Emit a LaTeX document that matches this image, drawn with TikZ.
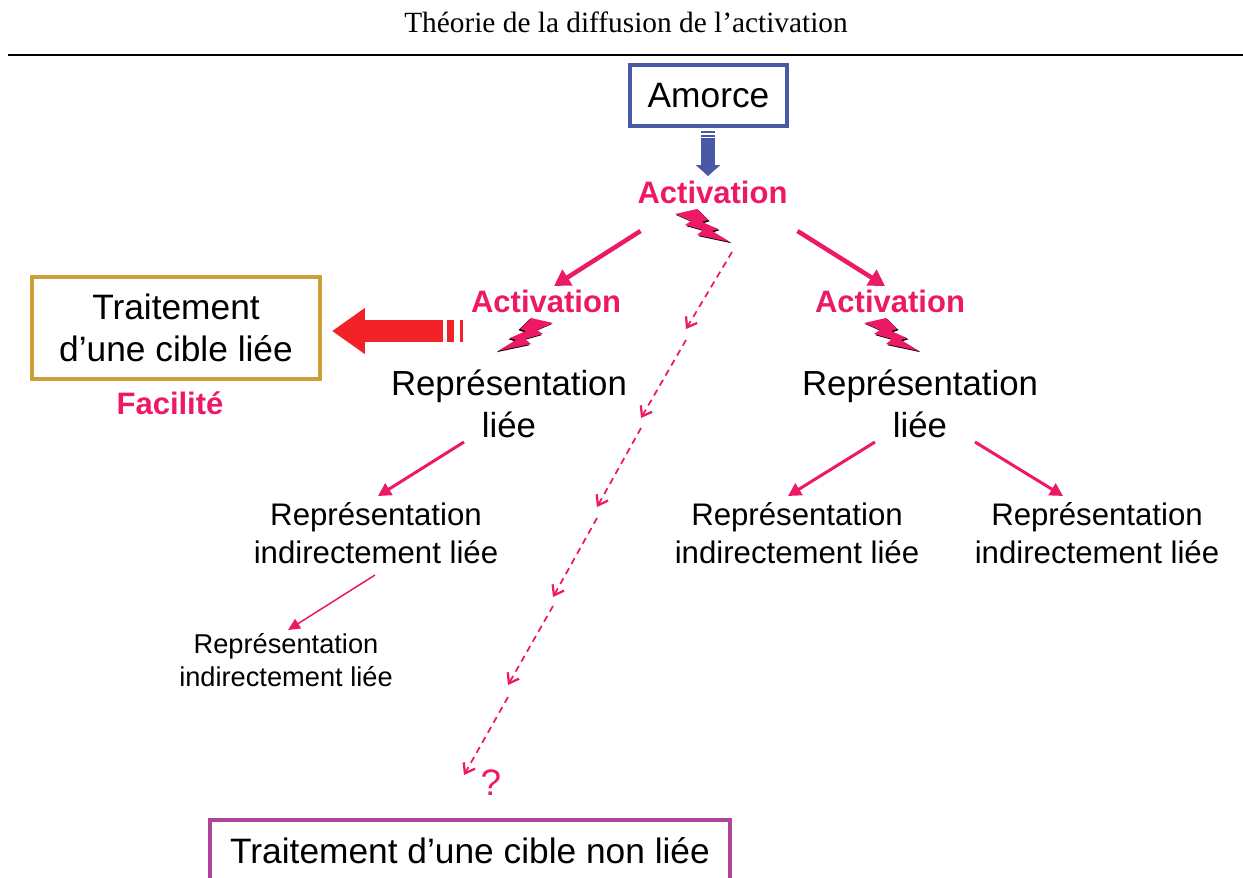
\documentclass[tikz,border=0pt]{standalone}
\usepackage{fontspec}
\setmainfont{Liberation Sans}
\newfontfamily\titlefont{Liberation Serif}
\usetikzlibrary{arrows.meta}
\definecolor{pinkact}{HTML}{ED1966}
\definecolor{redfac}{HTML}{F12228}
\definecolor{blueamo}{HTML}{4A59A7}
\definecolor{goldbox}{HTML}{CDA03A}
\definecolor{purplebox}{HTML}{AC459C}
\tikzset{
  box/.style={draw,line width=0.075cm,fill=white,inner sep=0pt,align=center,font=\fontsize{20.1}{23.8}\selectfont},
  rep/.style={inner sep=0pt,align=center,font=\fontsize{19.8}{23.8}\selectfont},
  indrep/.style={inner sep=0pt,align=center,font=\fontsize{17.75}{21.5}\selectfont},
  smallrep/.style={inner sep=0pt,align=center,font=\fontsize{15.5}{18.7}\selectfont},
  act/.style={inner sep=0pt,text=pinkact,font=\fontsize{17.65}{21}\selectfont\bfseries},
  link/.style={draw=pinkact,line width=0.09cm,-{Triangle[length=0.32cm,width=0.36cm,fill=pinkact]}},
  sublink/.style={draw=pinkact,line width=0.06cm,-{Triangle[length=0.26cm,width=0.27cm,fill=pinkact]}},
  thinlink/.style={draw=pinkact,line width=0.03cm,-{Triangle[length=0.24cm,width=0.22cm,fill=pinkact]}},
  dashlink/.style={draw=pinkact,line width=0.035cm,dash pattern=on 0.13cm off 0.1cm,-{Straight Barb[length=0.18cm,width=0.26cm,line width=0.045cm]}},
  bolt/.pic={
    \fill[black,shift={(1.5,1.2)}] (0,0) -- (22,-5) -- (33,6) -- (27,8) -- (43,15) -- (37,17) -- (55,28)
      -- (22,21) -- (28,16) -- (10,11) -- (16,7) -- cycle;
    \fill[pinkact] (0,0) -- (22,-5) -- (33,6) -- (27,8) -- (43,15) -- (37,17) -- (55,28)
      -- (22,21) -- (28,16) -- (10,11) -- (16,7) -- cycle;
  }
}

\begin{document}
\begin{tikzpicture}[x=0.02cm,y=-0.02cm]
    \useasboundingbox (0,0) rectangle (1243,877);
    \clip (0,0) rectangle (1243,877);
    % title
    \node (title) [inner sep=0pt,font=\titlefont\fontsize{16.7}{20}\selectfont] at (626,22) {Théorie de la diffusion de l’activation};
    \coordinate (ruleL) at (8,55);
    \coordinate (ruleR) at (1243,55);
    \draw[line width=0.03cm] (ruleL) -- (ruleR);
    % boxes
    \node (amorce) [box,draw=blueamo,minimum width=3.15cm,minimum height=1.22cm] at (708.5,95.5) {Amorce};
    \node (cible) [box,draw=goldbox,minimum width=5.75cm,minimum height=2.05cm] at (176,328) {Traitement\\d’une cible liée};
    \node (nonliee) [box,draw=purplebox,minimum width=10.4cm,minimum height=1.25cm] at (470,851) {Traitement d’une cible non liée};
    % activation labels
    \node (acttop) [act] at (712.5,192) {Activation};
    \node (actL) [act] at (546,301) {Activation};
    \node (actR) [act] at (890,301) {Activation};
    \node (facile) [act] at (170,403) {Facilité};
    % representations
    \node (repL) [rep] at (509,404) {Représentation\\liée};
    \node (repR) [rep] at (920,404) {Représentation\\liée};
    \node (indA) [indrep] at (376,533) {Représentation\\indirectement liée};
    \node (indB) [indrep] at (797,533) {Représentation\\indirectement liée};
    \node (indC) [indrep] at (1097,533) {Représentation\\indirectement liée};
    \node (indD) [smallrep] at (286,660) {Représentation\\indirectement liée};
    \node (quest) [inner sep=0pt,text=pinkact,font=\fontsize{21}{25}\selectfont] at (491,783) {?};
    % bolts
    \pic at (675,214) {bolt};
    \pic at (864,323) {bolt};
    \pic[xscale=-1] at (553,323) {bolt};
    % big arrows
    \coordinate (blueS) at (708,138);
    \coordinate (blueE) at (708,176);
    \draw[blueamo,line width=0.28cm,-{Triangle[length=0.22cm,width=0.48cm,fill=blueamo]}] (blueS) -- (blueE);
    \fill[blueamo] (701,131) rectangle (715,133);
    \fill[blueamo] (701,134.5) rectangle (715,136.5);
    \coordinate (redS) at (443,331);
    \coordinate (redE) at (332,331);
    \draw[redfac,line width=0.44cm,-{Triangle[length=0.66cm,width=0.88cm,fill=redfac]}] (redS) -- (redE);
    \fill[redfac] (447,320) rectangle (454,342);
    \fill[redfac] (460,320) rectangle (463,342);
    % connectors
    \draw[link] ([shift={(-72,39)}]acttop.center) -- ([shift={(8,-15)}]actL.center);
    \draw[link] ([shift={(85,39)}]acttop.center) -- ([shift={(-5,-15)}]actR.center);
    \draw[sublink] ([shift={(-45,38)}]repL.center) -- ([shift={(2,-37)}]indA.center);
    \draw[sublink] ([shift={(-45,38)}]repR.center) -- ([shift={(-9,-37)}]indB.center);
    \draw[sublink] ([shift={(55,38)}]repR.center) -- ([shift={(-34,-37)}]indC.center);
    \draw[thinlink] ([shift={(-1,42)}]indA.center) -- ([shift={(2,-30)}]indD.center);
    % dashed path towards the unrelated target
    \coordinate (d0s) at (732,252); \coordinate (d0e) at (686,329);
    \coordinate (d1s) at (686,340); \coordinate (d1e) at (641,418);
    \coordinate (d2s) at (641,428); \coordinate (d2e) at (597,507);
    \coordinate (d3s) at (597,518); \coordinate (d3e) at (553,597);
    \coordinate (d4s) at (553,606); \coordinate (d4e) at (508,685);
    \coordinate (d5s) at (508,697); \coordinate (d5e) at (464,775);
    \foreach \i in {0,...,5}
      \draw[dashlink] (d\i s) -- (d\i e);
\end{tikzpicture}
\end{document}
